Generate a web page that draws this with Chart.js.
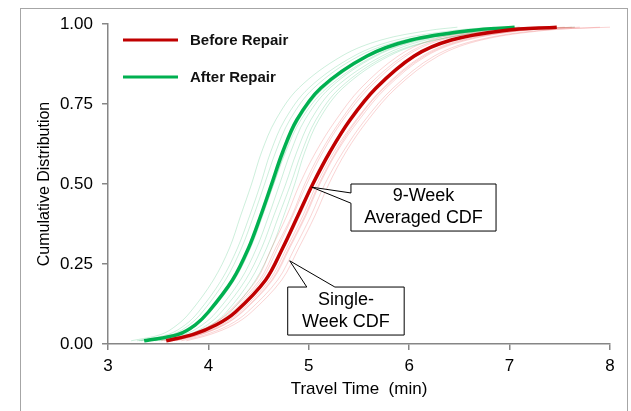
<!DOCTYPE html>
<html>
<head>
<meta charset="utf-8">
<script src="https://cdn.jsdelivr.net/npm/chart.js@4.4.0/dist/chart.umd.min.js"></script>
<style>
  body { margin: 0; background: #fff; }
  #wrap { position: relative; width: 631px; height: 411px; overflow: hidden; }
  #frame { position: absolute; left: 20px; top: 8px; width: 608px; height: 420px; border: 1px solid #a6a6a6; box-sizing: border-box; }
  canvas { position: absolute; left: 0; top: 0; }
</style>
</head>
<body>
<div id="wrap">
  <div id="frame"></div>
  <canvas id="myChart" width="631" height="411"></canvas>
</div>
<script>
'use strict'
// cumulative levels, travel times (min) for each level
const cdfLevels = [0.01, 0.03, 0.06, 0.1, 0.2, 0.3, 0.4, 0.5, 0.6, 0.7, 0.8, 0.9, 0.95, 0.98, 0.99];

const beforeAvg = [3.58, 3.85, 4.08, 4.27, 4.57, 4.74, 4.89, 5.04, 5.21, 5.41, 5.67, 6.05, 6.42, 6.95, 7.47];
const afterAvg  = [3.36, 3.70, 3.87, 4.00, 4.24, 4.40, 4.52, 4.63, 4.74, 4.88, 5.12, 5.58, 6.02, 6.62, 7.05];

const beforeWeeks = [
    [3.60, 3.83, 4.04, 4.20, 4.48, 4.63, 4.78, 4.91, 5.07, 5.27, 5.52, 5.89, 6.22, 6.70, 7.10],
    [3.56, 3.84, 4.07, 4.24, 4.53, 4.69, 4.84, 4.98, 5.14, 5.34, 5.60, 5.97, 6.32, 6.85, 7.30],
    [3.62, 3.88, 4.10, 4.28, 4.58, 4.75, 4.91, 5.05, 5.22, 5.43, 5.69, 6.07, 6.45, 7.00, 7.55],
    [3.68, 3.93, 4.16, 4.34, 4.64, 4.81, 4.97, 5.11, 5.28, 5.50, 5.77, 6.17, 6.58, 7.15, 7.70],
    [3.64, 3.90, 4.13, 4.31, 4.61, 4.78, 4.94, 5.08, 5.25, 5.47, 5.74, 6.13, 6.52, 7.10, 7.62],
    [3.73, 3.98, 4.21, 4.39, 4.69, 4.86, 5.02, 5.16, 5.34, 5.56, 5.84, 6.25, 6.68, 7.30, 8.00],
    [3.53, 3.80, 4.03, 4.21, 4.51, 4.67, 4.83, 4.96, 5.12, 5.32, 5.57, 5.94, 6.28, 6.80, 7.25],
    [3.78, 4.02, 4.25, 4.43, 4.73, 4.90, 5.06, 5.20, 5.37, 5.59, 5.87, 6.29, 6.72, 7.35, 7.90],
    [3.66, 3.92, 4.15, 4.33, 4.63, 4.80, 4.96, 5.10, 5.27, 5.48, 5.75, 6.15, 6.55, 7.12, 7.65]
];
const afterWeeks = [
    [3.23, 3.53, 3.69, 3.82, 4.05, 4.21, 4.32, 4.43, 4.53, 4.67, 4.90, 5.33, 5.72, 6.20, 6.48],
    [3.29, 3.60, 3.77, 3.90, 4.13, 4.29, 4.41, 4.52, 4.62, 4.76, 5.00, 5.45, 5.87, 6.45, 6.85],
    [3.31, 3.64, 3.81, 3.94, 4.17, 4.33, 4.45, 4.56, 4.67, 4.81, 5.05, 5.50, 5.95, 6.55, 7.00],
    [3.37, 3.71, 3.89, 4.02, 4.26, 4.42, 4.54, 4.65, 4.76, 4.90, 5.15, 5.61, 6.07, 6.70, 7.10],
    [3.41, 3.76, 3.94, 4.08, 4.32, 4.48, 4.60, 4.71, 4.82, 4.96, 5.21, 5.67, 6.12, 6.75, 7.20],
    [3.44, 3.80, 3.99, 4.13, 4.37, 4.53, 4.65, 4.77, 4.88, 5.02, 5.26, 5.73, 6.17, 6.80, 7.30],
    [3.47, 3.84, 4.03, 4.18, 4.42, 4.58, 4.70, 4.82, 4.93, 5.07, 5.31, 5.77, 6.25, 6.90, 7.45],
    [3.33, 3.66, 3.85, 3.99, 4.23, 4.40, 4.53, 4.65, 4.77, 4.92, 5.18, 5.65, 6.09, 6.68, 7.05],
    [3.51, 3.88, 4.07, 4.22, 4.47, 4.63, 4.75, 4.86, 4.96, 5.10, 5.34, 5.80, 6.27, 6.95, 7.65]
];

const xTicks = [3, 4, 5, 6, 7, 8];
const yTicks = [0, 0.25, 0.5, 0.75, 1];

const FONT = "Arial, 'Liberation Sans', sans-serif";
const RED = '#c00000';
const GREEN = '#00b050';
const AXIS = '#868686';

function toPoints(xs) {
    return xs.map((x, i) => ({x: x, y: cdfLevels[i]}));
}

let datasets = [
    {label: 'Before Repair', data: toPoints(beforeAvg), borderColor: RED, borderWidth: 3.5, order: 0, main: true},
    {label: 'After Repair', data: toPoints(afterAvg), borderColor: GREEN, borderWidth: 3.5, order: 0, main: true}
];
for (let w of beforeWeeks) {
    datasets.push({label: 'before week', data: toPoints(w), borderColor: 'rgba(230, 60, 60, 0.22)', borderWidth: 1, order: 1});
}
for (let w of afterWeeks) {
    datasets.push({label: 'after week', data: toPoints(w), borderColor: 'rgba(0, 176, 80, 0.2)', borderWidth: 1, order: 1});
}

// legend drawn inside the plot, only the two averaged curves
const legendInside = {
    id: 'legendInside',
    afterDatasetsDraw(chart) {
        const ctx = chart.ctx;
        const a = chart.chartArea;
        const items = chart.data.datasets.filter(d => d.main);
        ctx.save();
        items.forEach((d, i) => {
            let y = a.top + 16 + i * 37;
            ctx.strokeStyle = d.borderColor;
            ctx.lineWidth = 3;
            ctx.beginPath();
            ctx.moveTo(a.left + 15, y);
            ctx.lineTo(a.left + 70, y);
            ctx.stroke();
            ctx.fillStyle = '#111';
            ctx.font = 'bold 15px ' + FONT;
            ctx.textBaseline = 'middle';
            ctx.textAlign = 'left';
            ctx.fillText(d.label, a.left + 82, y + 1);
        });
        ctx.restore();
    }
};

// callout boxes, positioned in data units
const callouts = [
    {lines: ['9-Week', 'Averaged CDF'], tip: [5.03, 0.49], box: [5.42, 0.50, 6.865, 0.353], side: 'left', base: [0.472, 0.44]},
    {lines: ['Single-', 'Week CDF'], tip: [4.81, 0.26], box: [4.79, 0.178, 5.95, 0.028], side: 'top', base: [4.98, 5.26]}
];

const calloutPlugin = {
    id: 'calloutPlugin',
    afterDatasetsDraw(chart) {
        const ctx = chart.ctx;
        const sx = chart.scales.x, sy = chart.scales.y;
        ctx.save();
        for (let c of callouts) {
            let L = sx.getPixelForValue(c.box[0]), T = sy.getPixelForValue(c.box[1]);
            let R = sx.getPixelForValue(c.box[2]), B = sy.getPixelForValue(c.box[3]);
            let tx = sx.getPixelForValue(c.tip[0]), ty = sy.getPixelForValue(c.tip[1]);
            ctx.beginPath();
            if (c.side === 'left') {
                ctx.moveTo(L, T);
                ctx.lineTo(R, T);
                ctx.lineTo(R, B);
                ctx.lineTo(L, B);
                ctx.lineTo(L, sy.getPixelForValue(c.base[1]));
                ctx.lineTo(tx, ty);
                ctx.lineTo(L, sy.getPixelForValue(c.base[0]));
            } else {
                ctx.moveTo(L, T);
                ctx.lineTo(sx.getPixelForValue(c.base[0]), T);
                ctx.lineTo(tx, ty);
                ctx.lineTo(sx.getPixelForValue(c.base[1]), T);
                ctx.lineTo(R, T);
                ctx.lineTo(R, B);
                ctx.lineTo(L, B);
            }
            ctx.closePath();
            ctx.fillStyle = '#fff';
            ctx.fill();
            ctx.strokeStyle = '#000';
            ctx.lineWidth = 1;
            ctx.stroke();

            ctx.fillStyle = '#000';
            ctx.font = '18px ' + FONT;
            ctx.textAlign = 'center';
            ctx.textBaseline = 'middle';
            let cx = (L + R) / 2, cy = (T + B) / 2;
            ctx.fillText(c.lines[0], cx, cy - 11);
            ctx.fillText(c.lines[1], cx, cy + 11);
        }
        ctx.restore();
    }
};

const ctx = document.getElementById('myChart').getContext('2d');

const myChart = new Chart(ctx, {
    type: 'line',
    data: {datasets: datasets},
    options: {
        responsive: false,
        animation: false,
        events: [],
        layout: {padding: {left: 30, top: 24, right: 21, bottom: 11}},
        elements: {
            point: {radius: 0},
            line: {tension: 0.35, fill: false}
        },
        plugins: {
            legend: {display: false},
            tooltip: {enabled: false}
        },
        scales: {
            x: {
                type: 'linear',
                min: 3,
                max: 8,
                afterBuildTicks: (s) => { s.ticks = xTicks.map(v => ({value: v})); },
                afterFit: (s) => { s.height = 56; },
                grid: {drawOnChartArea: false, drawTicks: true, tickLength: 6, color: AXIS, lineWidth: 1.5},
                border: {display: true, color: AXIS, width: 1.5},
                ticks: {color: '#000', font: {family: FONT, size: 17}, padding: 6},
                title: {display: true, text: 'Travel Time  (min)', color: '#000', font: {family: FONT, size: 17}, padding: {top: 0, bottom: 0}}
            },
            y: {
                type: 'linear',
                min: 0,
                max: 1,
                afterBuildTicks: (s) => { s.ticks = yTicks.map(v => ({value: v})); },
                afterFit: (s) => { s.width = 78; },
                grid: {drawOnChartArea: false, drawTicks: true, tickLength: 6, color: AXIS, lineWidth: 1.5},
                border: {display: true, color: AXIS, width: 1.5},
                ticks: {color: '#000', font: {family: FONT, size: 17}, padding: 9, callback: (v) => v.toFixed(2)},
                title: {display: true, text: 'Cumulative Distribution', color: '#000', font: {family: FONT, size: 16}, padding: {top: 5, bottom: 0}}
            }
        }
    },
    plugins: [legendInside, calloutPlugin]
});
</script>
</body>
</html>
